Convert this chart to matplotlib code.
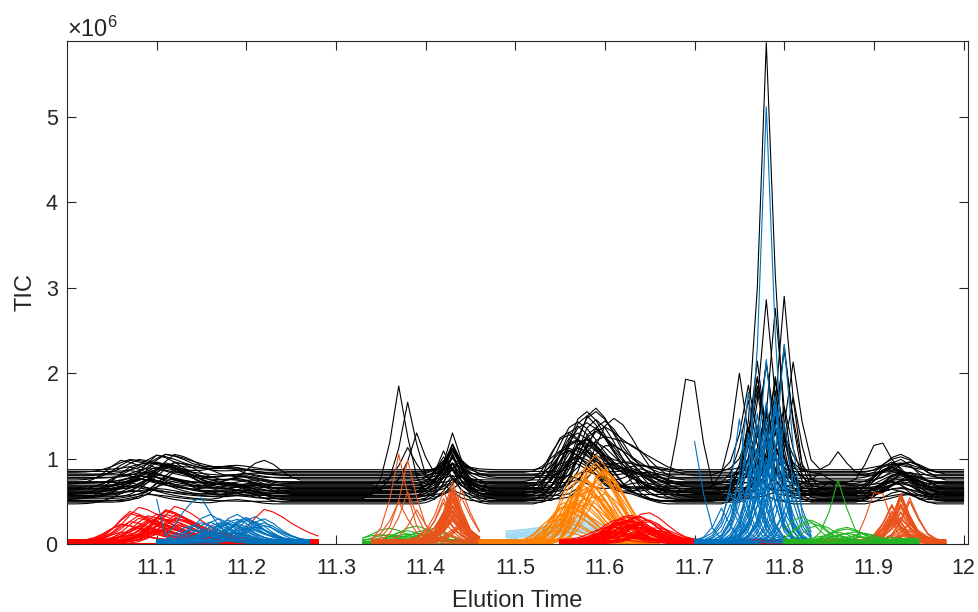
import numpy as np
import matplotlib.pyplot as plt

plt.rcParams['font.family'] = ['Liberation Sans', 'DejaVu Sans']
plt.rcParams['mathtext.fontset'] = 'custom'
plt.rcParams['mathtext.rm'] = 'Liberation Sans'

# elution time grid, one scan every 0.01 min
t = np.round(np.arange(11.0, 12.0 + 1e-9, 0.01), 2)

# peak shapes, relative intensity per scan (max = 1)
shape_slow = [0.02, 0.08, 0.22, 0.45, 0.75, 1.0, 0.92, 0.78, 0.6, 0.45, 0.32, 0.22, 0.14, 0.08, 0.04, 0.02]
shape_hump = [0.05, 0.2, 0.5, 0.85, 1.0, 0.8, 0.5, 0.28, 0.12, 0.04]
shape_bump = [0.15, 0.5, 0.85, 1.0, 0.8, 0.45, 0.15]
shape_spike = [0.05, 0.18, 0.5, 1.0, 0.55, 0.2, 0.06]
shape_sharp = [0.04, 0.15, 0.45, 1.0, 0.48, 0.14, 0.03]
shape_skew = [0.05, 0.25, 0.6, 0.9, 1.0, 0.88, 0.68, 0.45, 0.25, 0.1, 0.03]
shape_wide = [0.04, 0.15, 0.4, 0.72, 0.95, 1.0, 0.82, 0.55, 0.3, 0.12, 0.04]
shape_tail = [0.35, 0.38, 0.41, 0.45, 0.5, 0.57, 0.66, 0.78, 0.9, 1.0, 0.72, 0.38, 0.12, 0.03]
shape_flat = [0.1, 0.5, 1.0, 0.98, 0.45, 0.1]

# background level of the compound traces (x1e6), taken in turn per sample
floor_levels = [0.000, 0.030, 0.012, 0.045, 0.020, 0.006, 0.038, 0.025, 0.016, 0.050]

# ---- total ion chromatograms (x1e6), one per sample ----
tic_base = [0.47, 0.49, 0.50, 0.51, 0.52, 0.53, 0.54, 0.55, 0.55, 0.56,
            0.57, 0.57, 0.58, 0.59, 0.60, 0.60, 0.61, 0.62, 0.62, 0.63,
            0.64, 0.65, 0.65, 0.66, 0.67, 0.68, 0.69, 0.70, 0.71, 0.72,
            0.73, 0.75, 0.77, 0.78, 0.80, 0.81, 0.82, 0.84, 0.85, 0.87]

tic_a_t = [11.07, 11.11, 11.09, 11.12, 11.06, 11.10, 11.08, 11.11, 11.07, 11.12,
           11.09, 11.10, 11.06, 11.11, 11.08, 11.07, 11.12, 11.09, 11.10, 11.06,
           11.11, 11.08, 11.12, 11.07, 11.10, 11.09, 11.11, 11.06, 11.08, 11.12,
           11.10, 11.07, 11.09, 11.11, 11.08, 11.12, 11.10, 11.07, 11.11, 11.09]
tic_a_h = [0.16, 0.30, 0.08, 0.34, 0.22, 0.12, 0.26, 0.38, 0.14, 0.32,
           0.19, 0.24, 0.10, 0.36, 0.16, 0.30, 0.13, 0.22, 0.34, 0.18,
           0.26, 0.11, 0.31, 0.20, 0.37, 0.15, 0.24, 0.28, 0.09, 0.33,
           0.17, 0.23, 0.12, 0.27, 0.19, 0.14, 0.22, 0.15, 0.20, 0.08]

tic_b_t = [11.19, 11.20, 11.18, 11.21, 11.20, 11.19, 11.18, 11.20, 11.21, 11.19,
           11.20, 11.18, 11.21, 11.19, 11.20, 11.18, 11.21, 11.19, 11.20, 11.18,
           11.21, 11.19, 11.20, 11.18, 11.21, 11.20, 11.19, 11.18, 11.20, 11.21,
           11.19, 11.22, 11.20, 11.18, 11.21, 11.19, 11.20, 11.18, 11.21, 11.19]
tic_b_h = [0.05, 0.10, 0.00, 0.08, 0.12, 0.03, 0.07, 0.10, 0.04, 0.09,
           0.00, 0.06, 0.11, 0.05, 0.08, 0.03, 0.10, 0.06, 0.00, 0.09,
           0.04, 0.12, 0.07, 0.05, 0.08, 0.02, 0.10, 0.06, 0.09, 0.04,
           0.07, 0.23, 0.05, 0.08, 0.03, 0.06, 0.04, 0.07, 0.02, 0.05]

tic_d_t = [11.43, 11.43, 11.42, 11.43, 11.44, 11.43, 11.43, 11.42, 11.43, 11.43,
           11.44, 11.43, 11.43, 11.42, 11.43, 11.43, 11.44, 11.43, 11.43, 11.42,
           11.43, 11.43, 11.44, 11.43, 11.42, 11.43, 11.43, 11.44, 11.43, 11.43,
           11.42, 11.43, 11.43, 11.44, 11.43, 11.43, 11.42, 11.43, 11.43, 11.44]
tic_d_h = [0.30, 0.45, 0.20, 0.55, 0.35, 0.10, 0.50, 0.40, 0.25, 0.60,
           0.15, 0.45, 0.30, 0.50, 0.35, 0.70, 0.20, 0.40, 0.55, 0.25,
           0.30, 0.45, 0.15, 0.50, 0.35, 0.20, 0.40, 0.10, 0.30, 0.45,
           0.25, 0.05, 0.35, 0.20, 0.15, 0.30, 0.10, 0.25, 0.15, 0.05]

tic_e_t = [11.57, 11.58, 11.56, 11.59, 11.57, 11.60, 11.58, 11.56, 11.59, 11.57,
           11.58, 11.60, 11.57, 11.56, 11.59, 11.58, 11.57, 11.58, 11.60, 11.56,
           11.59, 11.57, 11.58, 11.60, 11.56, 11.57, 11.59, 11.58, 11.57, 11.61,
           11.56, 11.58, 11.57, 11.60, 11.59, 11.57, 11.58, 11.56, 11.60, 11.57]
tic_e_h = [0.50, 0.75, 0.30, 0.85, 0.60, 0.40, 0.70, 0.55, 0.90, 0.45,
           0.65, 0.35, 0.80, 0.50, 0.72, 0.25, 0.60, 0.88, 0.45, 0.68,
           0.95, 0.38, 0.58, 0.78, 0.30, 0.62, 0.50, 0.85, 0.42, 0.70,
           0.55, 0.33, 0.66, 0.48, 0.75, 0.40, 0.60, 0.28, 0.52, 0.35]

tic_f_t = [11.63, 11.64, 11.62, 11.65, 11.64, 11.63, 11.66, 11.64, 11.62, 11.65,
           11.63, 11.64, 11.62, 11.66, 11.63, 11.64, 11.65, 11.63, 11.62, 11.64,
           11.65, 11.63, 11.64, 11.66, 11.62, 11.63, 11.65, 11.64, 11.63, 11.62,
           11.64, 11.65, 11.63, 11.64, 11.66, 11.62, 11.63, 11.64, 11.65, 11.63]
tic_f_h = [0.10, 0.05, 0.15, 0.00, 0.20, 0.08, 0.12, 0.25, 0.04, 0.10,
           0.18, 0.06, 0.00, 0.14, 0.09, 0.22, 0.05, 0.11, 0.16, 0.03,
           0.13, 0.20, 0.07, 0.10, 0.00, 0.17, 0.08, 0.12, 0.24, 0.06,
           0.15, 0.09, 0.05, 0.19, 0.10, 0.04, 0.14, 0.08, 0.12, 0.06]

tic_h_t = [11.77, 11.79, 11.76, 11.79, 11.78, 11.80, 11.77, 11.81, 11.78, 11.79,
           11.76, 11.80, 11.78, 11.77, 11.80, 11.79, 11.78, 11.76, 11.81, 11.75,
           11.79, 11.77, 11.78, 11.80, 11.78, 11.76, 11.78, 11.79, 11.77, 11.80,
           11.78, 11.79, 11.77, 11.81, 11.78, 11.76, 11.80, 11.79, 11.77, 11.78]
tic_h_h = [0.90, 1.30, 0.50, 2.25, 1.10, 0.70, 1.60, 0.40, 1.00, 1.40,
           0.80, 1.75, 0.60, 1.20, 2.30, 0.90, 1.50, 0.35, 1.10, 1.37,
           0.75, 1.30, 5.22, 0.95, 1.45, 1.00, 2.17, 0.60, 1.25, 1.55,
           0.85, 1.15, 0.50, 1.35, 0.70, 1.05, 0.45, 0.80, 1.00, 0.55]

tic_j_t = [11.93, 11.92, 11.94, 11.93, 11.92, 11.93, 11.94, 11.93, 11.92, 11.93,
           11.94, 11.93, 11.92, 11.93, 11.93, 11.94, 11.92, 11.93, 11.93, 11.94,
           11.92, 11.93, 11.94, 11.93, 11.92, 11.93, 11.93, 11.94, 11.92, 11.93,
           11.93, 11.94, 11.92, 11.93, 11.93, 11.92, 11.94, 11.93, 11.93, 11.92]
tic_j_h = [0.15, 0.25, 0.08, 0.30, 0.12, 0.20, 0.05, 0.28, 0.18, 0.10,
           0.22, 0.14, 0.32, 0.06, 0.24, 0.16, 0.35, 0.09, 0.20, 0.13,
           0.27, 0.11, 0.19, 0.07, 0.23, 0.15, 0.30, 0.10, 0.17, 0.10,
           0.12, 0.21, 0.08, 0.16, 0.25, 0.05, 0.14, 0.18, 0.10, 0.06]

# peaks that only show up in a few samples: (sample, time, height)
tic_c_idx = [5, 12, 20, 27]
tic_c_t = [11.37, 11.38, 11.39, 11.38]
tic_c_h = [1.32, 1.08, 0.66, 0.43]
tic_i_idx = [33, 8, 25]
tic_i_t = [11.86, 11.85, 11.84]
tic_i_h = [0.30, 0.18, 0.15]
tic_k_idx = [10, 29]
tic_k_t = [11.69, 11.90]
tic_k_h = [1.36, 0.42]

# ---- extracted compound chromatograms (x1e6) ----
red1_t = [11.07, 11.09, 11.06, 11.11, 11.12, 11.08, 11.10, 11.07, 11.09, 11.12,
          11.11, 11.06, 11.10, 11.08, 11.11, 11.07, 11.09, 11.12, 11.10, 11.08,
          11.06, 11.11, 11.10, 11.09, 11.07, 11.12, 11.08, 11.11, 11.10, 11.09,
          11.08, 11.12, 11.07, 11.10, 11.11, 11.22]
red1_h = [0.38, 0.30, 0.22, 0.35, 0.42, 0.18, 0.27, 0.33, 0.12, 0.25,
          0.40, 0.20, 0.15, 0.29, 0.36, 0.10, 0.24, 0.31, 0.19, 0.38,
          0.14, 0.26, 0.34, 0.21, 0.08, 0.28, 0.17, 0.32, 0.23, 0.13,
          0.30, 0.19, 0.25, 0.11, 0.16, 0.40]

blue1_t = [11.17, 11.20, 11.15, 11.19, 11.21, 11.16, 11.18, 11.22, 11.14, 11.19,
           11.17, 11.21, 11.15, 11.20, 11.18, 11.16, 11.22, 11.19, 11.17, 11.20,
           11.15, 11.21, 11.18, 11.16, 11.19, 11.17, 11.22, 11.20, 11.14, 11.18,
           11.21, 11.16, 11.19, 11.20]
blue1_h = [0.22, 0.28, 0.15, 0.30, 0.18, 0.25, 0.12, 0.27, 0.20, 0.24,
           0.16, 0.29, 0.10, 0.23, 0.26, 0.14, 0.21, 0.19, 0.28, 0.13,
           0.25, 0.17, 0.22, 0.30, 0.11, 0.24, 0.18, 0.27, 0.15, 0.20,
           0.26, 0.09, 0.23, 0.16]
# one noisy sample, scans 11.10 .. 11.27
blue1_noisy = [0.52, 0.09, 0.22, 0.38, 0.50, 0.54, 0.36, 0.20, 0.12, 0.08,
               0.05, 0.04, 0.03, 0.03, 0.02, 0.02, 0.02, 0.02]

green1_t = [11.38, 11.36, 11.40, 11.37, 11.39, 11.41, 11.35, 11.38, 11.40, 11.39,
            11.37, 11.41, 11.43, 11.36]
green1_h = [0.12, 0.08, 0.15, 0.05, 0.10, 0.18, 0.07, 0.13, 0.09, 0.16,
            0.06, 0.11, 0.04, 0.14]

orred1_t = [11.37, 11.38, 11.38, 11.37, 11.39,
            11.43, 11.42, 11.43, 11.44, 11.43, 11.43, 11.43, 11.42, 11.44, 11.43,
            11.43, 11.43, 11.42, 11.43, 11.44, 11.43, 11.43, 11.42, 11.43, 11.43,
            11.44, 11.43, 11.43, 11.42, 11.43, 11.43, 11.44, 11.43, 11.42, 11.43,
            11.43, 11.44, 11.43, 11.43, 11.42, 11.43, 11.43, 11.44, 11.43, 11.42]
orred1_h = [1.05, 0.95, 0.60, 0.45, 0.38,
            0.45, 0.30, 0.62, 0.20, 0.55, 0.38, 0.70, 0.25, 0.50, 0.15,
            0.42, 0.60, 0.33, 0.48, 0.18, 0.58, 0.28, 0.52, 0.40, 0.65,
            0.22, 0.35, 0.56, 0.12, 0.46, 0.30, 0.61, 0.26, 0.44, 0.37,
            0.53, 0.20, 0.48, 0.32, 0.57, 0.10, 0.41, 0.27, 0.50, 0.35]

lblue_t = [11.58, 11.57, 11.58, 11.59, 11.57, 11.58, 11.59, 11.58, 11.57, 11.58,
           11.59, 11.57, 11.58, 11.58, 11.59, 11.57, 11.58, 11.59, 11.58, 11.57,
           11.58, 11.59, 11.57, 11.58]
lblue_h = [0.25, 0.18, 0.30, 0.12, 0.22, 0.28, 0.15, 0.33, 0.20, 0.26,
           0.10, 0.24, 0.19, 0.29, 0.14, 0.23, 0.31, 0.17, 0.21, 0.27,
           0.13, 0.25, 0.16, 0.22]

orange_t = [11.58, 11.57, 11.59, 11.56, 11.59, 11.58, 11.55, 11.60, 11.57, 11.58,
            11.59, 11.56, 11.58, 11.60, 11.57, 11.59, 11.55, 11.58, 11.57, 11.60,
            11.56, 11.59, 11.58, 11.57, 11.55, 11.58, 11.60, 11.56, 11.59, 11.57,
            11.58, 11.60, 11.59, 11.56, 11.58, 11.55, 11.57, 11.59, 11.58, 11.60]
orange_h = [0.75, 0.55, 0.90, 0.40, 1.02, 0.65, 0.30, 0.85, 0.50, 0.70,
            0.95, 0.35, 0.60, 0.80, 0.45, 0.72, 0.25, 0.88, 0.58, 0.68,
            0.38, 0.92, 0.52, 0.78, 0.20, 0.62, 0.82, 0.48, 0.66, 0.33,
            0.74, 0.56, 0.86, 0.42, 0.64, 0.15, 0.70, 0.54, 0.46, 0.76]

red2_t = [11.62, 11.64, 11.61, 11.65, 11.63, 11.62, 11.66, 11.64, 11.63, 11.61,
          11.65, 11.62, 11.64, 11.63, 11.66, 11.62, 11.61, 11.64, 11.63, 11.65,
          11.62, 11.66, 11.64, 11.61, 11.63, 11.65, 11.62, 11.64, 11.60, 11.63,
          11.65, 11.61, 11.64, 11.62, 11.63, 11.66]
red2_h = [0.20, 0.28, 0.12, 0.32, 0.18, 0.25, 0.08, 0.22, 0.30, 0.15,
          0.26, 0.10, 0.21, 0.29, 0.14, 0.24, 0.06, 0.19, 0.27, 0.11,
          0.23, 0.16, 0.31, 0.09, 0.20, 0.13, 0.25, 0.17, 0.07, 0.22,
          0.28, 0.12, 0.18, 0.05, 0.24, 0.15]

blue2_t = [11.78, 11.80, 11.78, 11.75, 11.70, 11.76, 11.79, 11.77, 11.78, 11.74,
           11.79, 11.77, 11.80, 11.76, 11.73, 11.78, 11.80, 11.77, 11.75, 11.79,
           11.78, 11.81, 11.76, 11.77, 11.79, 11.78, 11.75, 11.80, 11.76, 11.78,
           11.77, 11.79, 11.74, 11.78, 11.76, 11.81, 11.77, 11.80, 11.79, 11.78]
blue2_h = [5.12, 2.31, 2.15, 1.42, 1.18, 1.77, 1.60, 0.90, 1.30, 0.55,
           1.10, 1.50, 0.70, 1.25, 0.40, 1.65, 0.95, 1.35, 0.60, 1.05,
           1.45, 0.80, 1.20, 0.50, 1.55, 1.00, 0.75, 1.40, 0.65, 1.15,
           0.85, 1.70, 0.45, 1.28, 0.98, 0.58, 1.08, 0.35, 1.38, 0.88]

orred2_t = [11.93, 11.92, 11.93, 11.94, 11.93, 11.92, 11.94, 11.93, 11.92, 11.93,
            11.94, 11.93, 11.92, 11.93, 11.94, 11.93, 11.92, 11.93, 11.94, 11.93,
            11.92, 11.93, 11.94, 11.93, 11.92, 11.93, 11.94, 11.93, 11.92, 11.93,
            11.93, 11.94, 11.92, 11.93, 11.93, 11.94]
orred2_h = [0.45, 0.30, 0.58, 0.20, 0.50, 0.38, 0.12, 0.55, 0.28, 0.42,
            0.18, 0.52, 0.35, 0.25, 0.48, 0.10, 0.40, 0.56, 0.22, 0.33,
            0.46, 0.15, 0.53, 0.27, 0.44, 0.36, 0.08, 0.50, 0.31, 0.41,
            0.19, 0.47, 0.24, 0.38, 0.54, 0.14]
orred2_flat_t = [11.90]
orred2_flat_h = [0.60]

green2_t = [11.86, 11.83, 11.88, 11.87, 11.82, 11.89, 11.85, 11.84, 11.87, 11.88,
            11.86, 11.83, 11.89, 11.87, 11.85, 11.93, 11.94, 11.92]
green2_h = [0.10, 0.25, 0.08, 0.15, 0.30, 0.12, 0.06, 0.20, 0.11, 0.09,
            0.14, 0.22, 0.07, 0.13, 0.05, 0.04, 0.03, 0.05]
green2_spike_t = [11.86]
green2_spike_h = [0.75]

RED = '#FF0000'
BLUE = '#0072BD'
ORRED = '#E9531B'
ORANGE = '#FF8000'
LBLUE = '#A3DBF4'
GREEN = '#22B422'
LW = 0.8


def peak(shape, centre, height):
    y = np.zeros(t.size)
    top = int(np.argmax(shape))
    i0 = int(round((centre - 11.0) * 100)) - top
    for k, v in enumerate(shape):
        if 0 <= i0 + k < t.size:
            y[i0 + k] += height * v
    return y


def window(lo, hi):
    return (t >= lo - 1e-9) & (t <= hi + 1e-9)


def draw_group(ax, shape, centres, heights, lo, hi, color):
    keep = window(lo, hi)
    for j, (c, h) in enumerate(zip(centres, heights)):
        y = peak(shape, c, h) + floor_levels[j % len(floor_levels)]
        ax.plot(t[keep], y[keep] * 1e6, color=color, lw=LW)


fig = plt.figure(figsize=(9.79, 6.12), dpi=100)
ax = fig.add_axes([67 / 979, 68 / 612, 901 / 979, 503 / 612])

# TIC traces first, compound traces on top
for j, b in enumerate(tic_base):
    y = np.full(t.size, b)
    y += peak(shape_slow, tic_a_t[j], tic_a_h[j])
    y += peak(shape_bump, tic_b_t[j], tic_b_h[j])
    y += peak(shape_spike, tic_d_t[j], tic_d_h[j])
    y += peak(shape_skew, tic_e_t[j], tic_e_h[j])
    y += peak(shape_bump, tic_f_t[j], tic_f_h[j])
    y += peak(shape_sharp, tic_h_t[j], tic_h_h[j])
    y += peak(shape_bump, tic_j_t[j], tic_j_h[j])
    for idx, c, h in zip(tic_c_idx, tic_c_t, tic_c_h):
        if idx == j:
            y += peak(shape_spike, c, h)
    for idx, c, h in zip(tic_i_idx, tic_i_t, tic_i_h):
        if idx == j:
            y += peak(shape_spike, c, h)
    for idx, c, h in zip(tic_k_idx, tic_k_t, tic_k_h):
        if idx == j:
            y += peak(shape_flat, c, h)
    ax.plot(t, y * 1e6, color='k', lw=LW)

draw_group(ax, shape_slow, red1_t, red1_h, 11.00, 11.28, RED)
draw_group(ax, shape_hump, blue1_t, blue1_h, 11.10, 11.27, BLUE)
keep = window(11.10, 11.27)
ax.plot(t[keep], np.array(blue1_noisy) * 1e6, color=BLUE, lw=LW)

draw_group(ax, shape_bump, green1_t, green1_h, 11.33, 11.46, GREEN)
draw_group(ax, shape_spike, orred1_t, orred1_h, 11.34, 11.46, ORRED)

draw_group(ax, shape_tail, lblue_t, lblue_h, 11.49, 11.62, LBLUE)
draw_group(ax, shape_skew, orange_t, orange_h, 11.46, 11.66, ORANGE)
draw_group(ax, shape_wide, red2_t, red2_h, 11.55, 11.80, RED)
draw_group(ax, shape_sharp, blue2_t, blue2_h, 11.70, 11.83, BLUE)

draw_group(ax, shape_spike, orred2_t, orred2_h, 11.80, 11.98, ORRED)
draw_group(ax, shape_flat, orred2_flat_t, orred2_flat_h, 11.80, 11.98, ORRED)
draw_group(ax, shape_bump, green2_t, green2_h, 11.80, 11.95, GREEN)
draw_group(ax, shape_spike, green2_spike_t, green2_spike_h, 11.80, 11.95, GREEN)

ax.set_xlim(11.0, 12.005)
ax.set_ylim(0, 5.89e6)
ax.set_xticks([11.1, 11.2, 11.3, 11.4, 11.5, 11.6, 11.7, 11.8, 11.9, 12.0])
ax.set_xticklabels(['11.1', '11.2', '11.3', '11.4', '11.5', '11.6', '11.7', '11.8', '11.9', '12'])
ax.set_yticks([0, 1e6, 2e6, 3e6, 4e6, 5e6])
ax.ticklabel_format(axis='y', style='sci', scilimits=(0, 0), useMathText=True)
ax.yaxis.get_offset_text().set_fontsize(17)
ax.yaxis.get_offset_text().set_color('#262626')

ax.tick_params(direction='in', length=6.5, width=0.8, top=True, right=True,
               colors='#262626', labelsize=15.5)
ax.tick_params(axis='x', pad=10)
ax.tick_params(axis='y', pad=6)
for s in ax.spines.values():
    s.set_color('#262626')
    s.set_linewidth(0.8)

ax.set_xlabel('Elution Time', fontsize=17, color='#262626', labelpad=8)
ax.set_ylabel('TIC', fontsize=17, color='#262626', labelpad=6)

fig.savefig('out.png', dpi=100)
